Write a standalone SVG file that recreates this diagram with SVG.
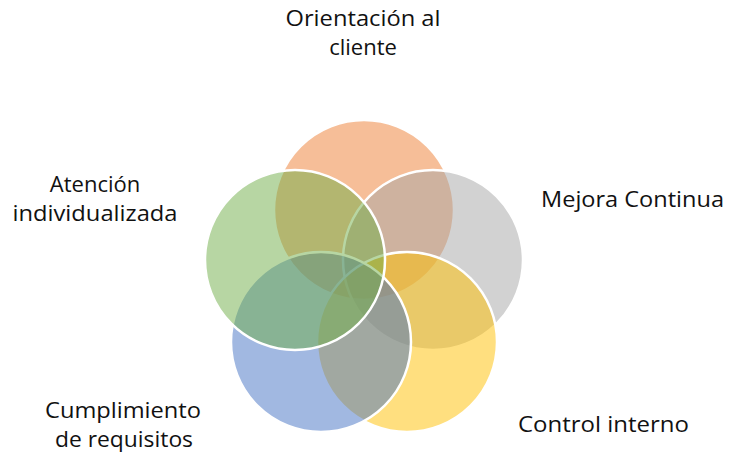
<svg xmlns="http://www.w3.org/2000/svg" width="729" height="454" viewBox="0 0 729 454">
<style>
.c{fill-opacity:0.5;stroke:#fff;stroke-width:2.5}
text{font-family:"Open Sans","Liberation Sans",sans-serif;font-size:22px;fill:#111}
.m{text-anchor:middle}
</style>
<rect width="729" height="454" fill="#fff"/>
<g id="orientacion"><circle class="c" cx="364" cy="210" r="90" fill="#ED7D31"/></g>
<g id="mejora"><circle class="c" cx="433" cy="260" r="90" fill="#A5A5A5"/></g>
<g id="control"><circle class="c" cx="407" cy="342" r="90" fill="#FFC000"/></g>
<g id="cumplimiento"><circle class="c" cx="321" cy="342" r="90" fill="#4472C4"/></g>
<g id="atencion"><circle class="c" cx="295" cy="260" r="90" fill="#70AD47"/></g>
<g id="connectors"></g>
<g id="labels">
<text class="m" x="363" y="26" textLength="155" lengthAdjust="spacingAndGlyphs">Orientación al</text>
<text class="m" x="363" y="55">cliente</text>
<text class="m" x="95" y="192">Atención</text>
<text class="m" x="95" y="221" textLength="165" lengthAdjust="spacingAndGlyphs">individualizada</text>
<text x="541" y="207" textLength="183" lengthAdjust="spacingAndGlyphs">Mejora Continua</text>
<text class="m" x="123" y="418" textLength="156" lengthAdjust="spacingAndGlyphs">Cumplimiento</text>
<text class="m" x="124" y="447" textLength="138" lengthAdjust="spacingAndGlyphs">de requisitos</text>
<text x="518" y="432" textLength="171" lengthAdjust="spacingAndGlyphs">Control interno</text>
</g>
</svg>
